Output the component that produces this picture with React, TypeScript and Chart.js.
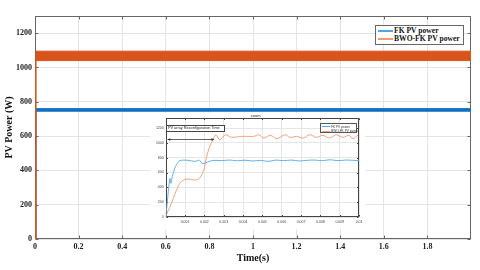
import React, { useEffect, useRef } from "react";
import { Chart, registerables } from "chart.js";

Chart.register(...registerables);

const SERIF = '"Liberation Serif", "Times New Roman", serif';
const SANS = '"Liberation Sans", Arial, sans-serif';

// ---------- main chart data ----------
const mainTime = [0, 0.004, 2];
const bwoPowerHigh = [0, 1095, 1095];
const bwoPowerLow = [0, 1040, 1040];
const fkPowerHigh = [0, 760, 760];
const fkPowerLow = [0, 745, 745];
const rippleTime = [0.004, 2];
const bwoRipple = [1044, 1044];
const fkRipple = [748, 748];
const mainXTicks = [0, 0.2, 0.4, 0.6, 0.8, 1, 1.2, 1.4, 1.6, 1.8];
const mainYTicks = [0, 200, 400, 600, 800, 1000, 1200];

// ---------- zoomed inset data ----------
const zoomFkTime = [0, 0.0001, 0.00017, 0.00022, 0.00027, 0.00034, 0.00047, 0.00056, 0.00073, 0.00115, 0.0015, 0.00175, 0.0019, 0.00226, 0.0025, 0.0029, 0.0033, 0.0037, 0.0041, 0.0045, 0.0049, 0.0053, 0.0057, 0.0061, 0.0065, 0.0069, 0.0073, 0.0077, 0.0081, 0.0085, 0.0089, 0.0093, 0.0097, 0.01];
const zoomFkPower = [0, 252, 431, 521, 454, 543, 656, 705, 759, 764, 750, 764, 720, 750, 764, 760, 768, 758, 766, 755, 764, 750, 768, 759, 768, 755, 764, 768, 759, 772, 759, 768, 764, 760];
const zoomBwoTime = [0, 0.0001, 0.0003, 0.00056, 0.0008, 0.00115, 0.0015, 0.00175, 0.002, 0.0021, 0.00225, 0.0025, 0.0026, 0.0028, 0.0031, 0.0034, 0.0039, 0.0043, 0.00456, 0.00481, 0.00507, 0.00541, 0.00575, 0.00617, 0.00643, 0.00677, 0.00711, 0.00745, 0.00779, 0.00813, 0.00847, 0.00881, 0.00915, 0.00949, 0.00966, 0.00996];
const zoomBwoPower = [0, 71, 185, 364, 476, 512, 499, 521, 664, 795, 930, 1074, 1109, 1042, 1109, 1074, 1087, 1087, 1087, 1109, 1065, 1101, 1055, 1109, 1074, 1087, 1065, 1109, 1074, 1101, 1065, 1109, 1074, 1101, 1055, 1109];
const zoomXTicks = [0.001, 0.002, 0.003, 0.004, 0.005, 0.006, 0.007, 0.008, 0.009, 0.01];
const zoomYTicks = [0, 200, 400, 600, 800, 1000, 1200];
const reconfigArrowFrom = 0.0001;
const reconfigArrowTo = 0.0025;
const reconfigArrowLevel = 1050;

const seriesNames = ["FK PV power", "BWO-FK PV power"];

const BLUE = "#1170C2";
const ORANGE = "#D9541A";
const BLUE_LIGHT = "#4FA8E6";
const ORANGE_LIGHT = "#F39A70";

const pts = (xs: number[], ys: number[]) => xs.map((x, i) => ({ x, y: ys[i] }));

const framePlugin = (id: string, color: string, tick: number) => ({
  id,
  beforeDatasetsDraw(chart: any) {
    const { ctx, chartArea: a, scales } = chart;
    const l = Math.round(a.left) + 0.5;
    const r = Math.round(a.right) - 0.5;
    const t = Math.round(a.top) + 0.5;
    const b = Math.round(a.bottom) - 0.5;
    ctx.save();
    ctx.strokeStyle = color;
    ctx.lineWidth = 1;
    ctx.strokeRect(l, t, r - l, b - t);
    ctx.beginPath();
    for (const tk of scales.x.ticks) {
      const px = Math.round(scales.x.getPixelForValue(tk.value)) + 0.5;
      ctx.moveTo(px, b);
      ctx.lineTo(px, b - tick);
      ctx.moveTo(px, t);
      ctx.lineTo(px, t + tick);
    }
    for (const tk of scales.y.ticks) {
      const py = Math.round(scales.y.getPixelForValue(tk.value)) + 0.5;
      ctx.moveTo(l, py);
      ctx.lineTo(l + tick, py);
      ctx.moveTo(r, py);
      ctx.lineTo(r - tick, py);
    }
    ctx.stroke();
    ctx.restore();
  },
});

const arrowPlugin = {
  id: "reconfigArrow",
  afterDatasetsDraw(chart: any) {
    const { ctx, scales } = chart;
    const x1 = scales.x.getPixelForValue(reconfigArrowFrom);
    const x2 = scales.x.getPixelForValue(reconfigArrowTo);
    const y = Math.round(scales.y.getPixelForValue(reconfigArrowLevel)) + 0.5;
    ctx.save();
    ctx.strokeStyle = "#222";
    ctx.fillStyle = "#222";
    ctx.lineWidth = 0.7;
    ctx.beginPath();
    ctx.moveTo(x1, y);
    ctx.lineTo(x2, y);
    ctx.stroke();
    const h = 2.6;
    ctx.beginPath();
    ctx.moveTo(x1, y);
    ctx.lineTo(x1 + h, y - 1.2);
    ctx.lineTo(x1 + h, y + 1.2);
    ctx.closePath();
    ctx.fill();
    ctx.beginPath();
    ctx.moveTo(x2, y);
    ctx.lineTo(x2 - h, y - 1.2);
    ctx.lineTo(x2 - h, y + 1.2);
    ctx.closePath();
    ctx.fill();
    ctx.restore();
  },
};

function MainChart() {
  const ref = useRef<HTMLCanvasElement>(null);
  useEffect(() => {
    const tickFont = { family: SERIF, size: 8, weight: "bold" as const };
    const chart = new Chart(ref.current!, {
      type: "line",
      data: {
        datasets: [
          { label: seriesNames[1], data: pts(mainTime, bwoPowerHigh), borderColor: ORANGE, backgroundColor: ORANGE, borderWidth: 1, pointRadius: 0, fill: "+1", tension: 0 },
          { label: seriesNames[1] + " low", data: pts(mainTime, bwoPowerLow), borderColor: ORANGE, borderWidth: 1, pointRadius: 0, fill: false, tension: 0 },
          { label: "bwo ripple", data: pts(rippleTime, bwoRipple), borderColor: "rgba(255,255,255,0.75)", borderDash: [4, 2], borderWidth: 0.8, pointRadius: 0, fill: false },
          { label: seriesNames[0], data: pts(mainTime, fkPowerHigh), borderColor: BLUE, backgroundColor: BLUE, borderWidth: 1, pointRadius: 0, fill: "+1", tension: 0 },
          { label: seriesNames[0] + " low", data: pts(mainTime, fkPowerLow), borderColor: BLUE, borderWidth: 1, pointRadius: 0, fill: false, tension: 0 },
          { label: "fk ripple", data: pts(rippleTime, fkRipple), borderColor: "rgba(255,255,255,0.6)", borderDash: [4, 2], borderWidth: 0.8, pointRadius: 0, fill: false },
        ],
      },
      options: {
        animation: false,
        responsive: false,
        devicePixelRatio: 1,
        events: [],
        layout: { padding: { top: 16, right: 9, left: 0, bottom: 0 } },
        plugins: { legend: { display: false }, tooltip: { enabled: false }, title: { display: false } },
        scales: {
          x: {
            type: "linear",
            min: 0,
            max: 2,
            afterBuildTicks: (s: any) => { s.ticks = mainXTicks.map((v) => ({ value: v })); },
            afterFit: (s: any) => { s.height = 31; },
            ticks: { font: tickFont, color: "#222", padding: 3, maxRotation: 0, autoSkip: false, callback: (v: any) => String(v) },
            grid: { color: "#e4e4e4", drawTicks: false },
            border: { display: false },
            title: { display: true, text: "Time(s)", font: { family: SERIF, size: 10, weight: "bold" }, color: "#111", padding: { top: 0, bottom: 6 } },
          },
          y: {
            type: "linear",
            min: 0,
            max: 1300,
            afterBuildTicks: (s: any) => { s.ticks = mainYTicks.map((v) => ({ value: v })); },
            afterFit: (s: any) => { s.width = 35; },
            ticks: { font: tickFont, color: "#222", padding: 3, autoSkip: false, callback: (v: any) => String(v) },
            grid: { color: "#e4e4e4", drawTicks: false },
            border: { display: false },
            title: { display: true, text: "PV Power (W)", font: { family: SERIF, size: 10, weight: "bold" }, color: "#111", padding: { top: 3, bottom: 0 } },
          },
        },
      },
      plugins: [framePlugin("mainFrame", "#666", 3)],
    });
    return () => chart.destroy();
  }, []);
  return <canvas ref={ref} width={480} height={270} style={{ position: "absolute", left: 0, top: 0, width: 480, height: 270 }} />;
}

function ZoomChart() {
  const ref = useRef<HTMLCanvasElement>(null);
  useEffect(() => {
    const tickFont = { family: SANS, size: 3.5 };
    const chart = new Chart(ref.current!, {
      type: "line",
      data: {
        datasets: [
          { label: seriesNames[0], data: pts(zoomFkTime, zoomFkPower), borderColor: BLUE_LIGHT, borderWidth: 0.9, pointRadius: 0, fill: false, tension: 0.35 },
          { label: seriesNames[1], data: pts(zoomBwoTime, zoomBwoPower), borderColor: ORANGE_LIGHT, borderWidth: 0.9, pointRadius: 0, fill: false, tension: 0.35 },
        ],
      },
      options: {
        animation: false,
        responsive: false,
        devicePixelRatio: 1,
        events: [],
        layout: { padding: { top: 0, right: 3.5, left: 0, bottom: 0 } },
        plugins: {
          legend: { display: false },
          tooltip: { enabled: false },
          title: { display: true, text: "zoom", font: { family: SANS, size: 4, weight: "normal" }, color: "#333", padding: { top: 0.2, bottom: 0 } },
        },
        scales: {
          x: {
            type: "linear",
            min: 0,
            max: 0.01,
            afterBuildTicks: (s: any) => { s.ticks = zoomXTicks.map((v) => ({ value: v })); },
            afterFit: (s: any) => { s.height = 12; },
            ticks: { font: tickFont, color: "#444", padding: 2.5, maxRotation: 0, autoSkip: false, callback: (v: any) => String(v) },
            grid: { color: "#e6e6e6", drawTicks: false },
            border: { display: false },
          },
          y: {
            type: "linear",
            min: 0,
            max: 1335,
            afterBuildTicks: (s: any) => { s.ticks = zoomYTicks.map((v) => ({ value: v })); },
            afterFit: (s: any) => { s.width = 15.7; },
            ticks: { font: tickFont, color: "#444", padding: 2, autoSkip: false, callback: (v: any) => String(v) },
            grid: { color: "#e6e6e6", drawTicks: false },
            border: { display: false },
          },
        },
      },
      plugins: [
        {
          id: "whiteBg",
          beforeDraw(c: any) {
            c.ctx.save();
            c.ctx.fillStyle = "#fff";
            c.ctx.fillRect(0, 0, c.width, c.height);
            c.ctx.restore();
          },
        },
        framePlugin("zoomFrame", "#444", 1.5),
        arrowPlugin,
      ],
    });
    return () => chart.destroy();
  }, []);
  return <canvas ref={ref} width={215} height={116} style={{ position: "absolute", left: 150, top: 113, width: 215, height: 116 }} />;
}

export default function App() {
  const legendRow = (color: string, text: string, lineW: number, lineH: number, font: any) => (
    <div style={{ display: "flex", alignItems: "center", whiteSpace: "nowrap", height: font.lineHeight }}>
      <div style={{ flex: "0 0 auto", width: lineW, height: lineH, background: color, marginRight: 1 }} />
      <span style={font}>{text}</span>
    </div>
  );
  const mainFont = { fontFamily: SERIF, fontWeight: "bold", fontSize: 7.6, color: "#111", lineHeight: "8px" };
  const zoomFont = { fontFamily: SANS, fontSize: 3.2, color: "#333", lineHeight: "4.3px" };
  return (
    <div style={{ position: "absolute", left: 0, top: 0, width: 480, height: 270, background: "#fff", overflow: "hidden" }}>
      <MainChart />
      <ZoomChart />
      {/* main legend */}
      <div style={{ position: "absolute", left: 375, top: 25, width: 89, height: 20, boxSizing: "border-box", border: "1px solid #666", background: "#fff", padding: "1px 0 0 2px" }}>
        {legendRow(BLUE_LIGHT, seriesNames[0], 15, 1.3, mainFont)}
        {legendRow(ORANGE_LIGHT, seriesNames[1], 15, 1.3, mainFont)}
      </div>
      {/* inset legend */}
      <div style={{ position: "absolute", left: 320, top: 123, width: 37, height: 10, boxSizing: "border-box", border: "0.6px solid #555", background: "#fff", padding: "0.5px 0 0 1px" }}>
        {legendRow(BLUE_LIGHT, seriesNames[0], 8, 0.8, zoomFont)}
        {legendRow(ORANGE_LIGHT, seriesNames[1], 8, 0.8, zoomFont)}
      </div>
      {/* reconfiguration annotation */}
      <div style={{ position: "absolute", left: 166, top: 125, width: 59, height: 7, boxSizing: "border-box", border: "0.8px solid #444", background: "#fff", fontFamily: SANS, fontSize: 3.8, lineHeight: "5.5px", color: "#222", paddingLeft: 1, whiteSpace: "nowrap", overflow: "hidden" }}>
        PV array Reconfiguration Time
      </div>
    </div>
  );
}
